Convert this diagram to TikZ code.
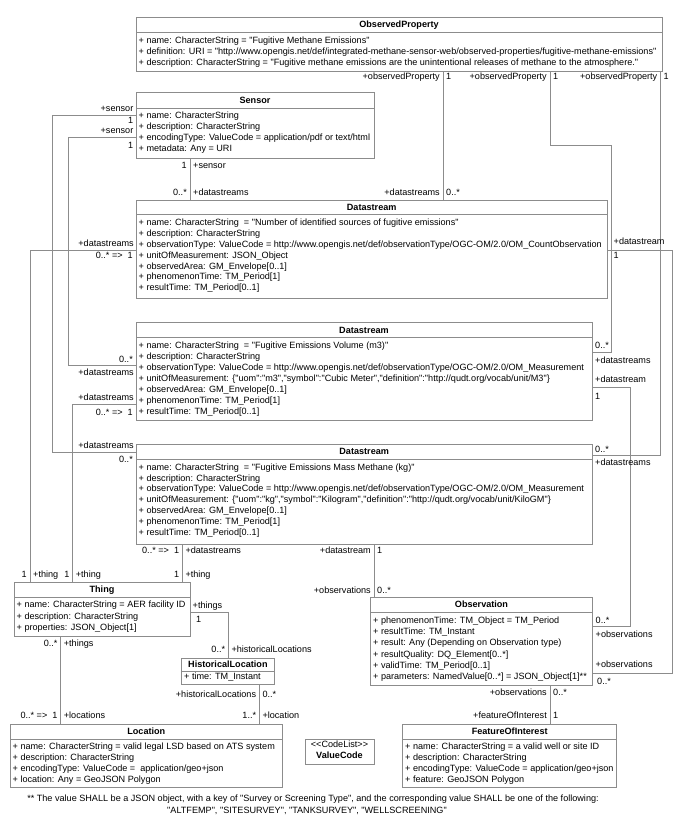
\documentclass[tikz,border=0pt]{standalone}
\usepackage{fontspec}
\newfontfamily\lsans{Liberation Sans}
\usetikzlibrary{fit}
\definecolor{lc}{RGB}{140,140,140}
\begin{document}
\begin{tikzpicture}[x=1pt,y=-1pt,
  every node/.style={font=\lsans\fontsize{9.1}{11}\selectfont, inner sep=0pt},
  cls/.style={draw=lc, line width=0.8pt, inner sep=0pt},
  sepl/.style={draw=lc, line width=0.8pt},
  conn/.style={draw=lc, line width=0.8pt},
  ttl/.style={anchor=mid, font=\lsans\bfseries\fontsize{9.1}{11}\selectfont},
  att/.style={anchor=mid west},
  le/.style={anchor=mid east},
  lw/.style={anchor=mid west}]
\useasboundingbox (0,0) rectangle (699,828);

% ---------- ObservedProperty
\node[cls, fit={(136,17) (662,71.5)}] (op) {};
\draw[sepl] (136,32.5) -- (662,32.5);
\node[ttl] (opT) at (399,25.5) {ObservedProperty};
\node[att] (opA1) at (138.5,41.5) {+ name: CharacterString = "Fugitive Methane Emissions"};
\node[att] (opA2) at (138.5,52.5) {+ definition: URI = "http://www.opengis.net/def/integrated-methane-sensor-web/observed-properties/fugitive-methane-emissions"};
\node[att] (opA3) at (138.5,63.5) {+ description: CharacterString = "Fugitive methane emissions are the unintentional releases of methane to the atmosphere."};

% ---------- Sensor
\node[cls, fit={(136,92.3) (374,158.3)}] (sensor) {};
\draw[sepl] (136,108.3) -- (374,108.3);
\node[ttl] (sensorT) at (255,101) {Sensor};
\node[att] (sensorA1) at (138.5,116.7) {+ name: CharacterString};
\node[att] (sensorA2) at (138.5,127.7) {+ description: CharacterString};
\node[att] (sensorA3) at (138.5,138.5) {+ encodingType: ValueCode = application/pdf or text/html};
\node[att] (sensorA4) at (138.5,149.5) {+ metadata: Any = URI};

% ---------- Datastream 1
\node[cls, fit={(136,200) (607.3,298.3)}] (ds1) {};
\draw[sepl] (136,214) -- (607.3,214);
\node[ttl] (ds1T) at (371.7,208) {Datastream};
\node[att] (ds1A1) at (138.5,223.3) {+ name: CharacterString \ = "Number of identified sources of fugitive emissions"};
\node[att] (ds1A2) at (138.5,234.2) {+ description: CharacterString};
\node[att] (ds1A3) at (138.5,245.1) {+ observationType: ValueCode = http://www.opengis.net/def/observationType/OGC-OM/2.0/OM\_CountObservation};
\node[att] (ds1A4) at (138.5,256.0) {+ unitOfMeasurement: JSON\_Object};
\node[att] (ds1A5) at (138.5,266.9) {+ observedArea: GM\_Envelope[0..1]};
\node[att] (ds1A6) at (138.5,277.8) {+ phenomenonTime: TM\_Period[1]};
\node[att] (ds1A7) at (138.5,288.7) {+ resultTime: TM\_Period[0..1]};

% ---------- Datastream 2
\node[cls, fit={(136,322.7) (592,420.7)}] (ds2) {};
\draw[sepl] (136,337.7) -- (592,337.7);
\node[ttl] (ds2T) at (364,331) {Datastream};
\node[att] (ds2A1) at (138.5,346.7) {+ name: CharacterString \ = "Fugitive Emissions Volume (m3)"};
\node[att] (ds2A2) at (138.5,357.6) {+ description: CharacterString};
\node[att] (ds2A3) at (138.5,368.5) {+ observationType: ValueCode = http://www.opengis.net/def/observationType/OGC-OM/2.0/OM\_Measurement};
\node[att] (ds2A4) at (138.5,379.4) {+ unitOfMeasurement: \{"uom":"m3","symbol":"Cubic Meter","definition":"http://qudt.org/vocab/unit/M3"\}};
\node[att] (ds2A5) at (138.5,390.3) {+ observedArea: GM\_Envelope[0..1]};
\node[att] (ds2A6) at (138.5,401.2) {+ phenomenonTime: TM\_Period[1]};
\node[att] (ds2A7) at (138.5,412.1) {+ resultTime: TM\_Period[0..1]};

% ---------- Datastream 3
\node[cls, fit={(136,444.5) (592.3,544)}] (ds3) {};
\draw[sepl] (136,459.3) -- (592.3,459.3);
\node[ttl] (ds3T) at (364.2,452.8) {Datastream};
\node[att] (ds3A1) at (138.5,468.0) {+ name: CharacterString \ = "Fugitive Emissions Mass Methane (kg)"};
\node[att] (ds3A2) at (138.5,478.9) {+ description: CharacterString};
\node[att] (ds3A3) at (138.5,489.8) {+ observationType: ValueCode = http://www.opengis.net/def/observationType/OGC-OM/2.0/OM\_Measurement};
\node[att] (ds3A4) at (138.5,500.7) {+ unitOfMeasurement: \{"uom":"kg","symbol":"Kilogram","definition":"http://qudt.org/vocab/unit/KiloGM"\}};
\node[att] (ds3A5) at (138.5,511.6) {+ observedArea: GM\_Envelope[0..1]};
\node[att] (ds3A6) at (138.5,522.5) {+ phenomenonTime: TM\_Period[1]};
\node[att] (ds3A7) at (138.5,533.4) {+ resultTime: TM\_Period[0..1]};

% ---------- Thing
\node[cls, fit={(14,582.7) (190,636)}] (thing) {};
\draw[sepl] (14,597) -- (190,597);
\node[ttl] (thingT) at (102,590.5) {Thing};
\node[att] (thingA1) at (16.5,605.7) {+ name: CharacterString = AER facility ID};
\node[att] (thingA2) at (16.5,616.9) {+ description: CharacterString};
\node[att] (thingA3) at (16.5,628) {+ properties: JSON\_Object[1]};

% ---------- HistoricalLocation
\node[cls, fit={(181.7,658.3) (274,684.5)}] (hl) {};
\draw[sepl] (181.7,671) -- (274,671);
\node[ttl] (hlT) at (227.9,665) {HistoricalLocation};
\node[att] (hlA1) at (184,677.7) {+ time: TM\_Instant};

% ---------- Location
\node[cls, fit={(10,724.5) (282.7,787)}] (loc) {};
\draw[sepl] (10,739) -- (282.7,739);
\node[ttl] (locT) at (146.3,732.3) {Location};
\node[att] (locA1) at (12.5,747) {+ name: CharacterString = valid legal LSD based on ATS system};
\node[att] (locA2) at (12.5,758) {+ description: CharacterString};
\node[att] (locA3) at (12.5,769) {+ encodingType: ValueCode = \ application/geo+json};
\node[att] (locA4) at (12.5,780) {+ location: Any = GeoJSON Polygon};

% ---------- CodeList
\node[cls, fit={(305,739) (374,764)}] (cl) {};
\node[anchor=mid] (clA) at (339.5,745.5) {<{}<CodeList>{}>};
\node[ttl] (clT) at (339.5,756.5) {ValueCode};

% ---------- Observation
\node[cls, fit={(370.7,597.3) (592.3,685)}] (obs) {};
\draw[sepl] (370.7,612.3) -- (592.3,612.3);
\node[ttl] (obsT) at (481.5,605.5) {Observation};
\node[att] (obsA1) at (373,621.2) {+ phenomenonTime: TM\_Object = TM\_Period};
\node[att] (obsA2) at (373,632.5) {+ resultTime: TM\_Instant};
\node[att] (obsA3) at (373,643.8) {+ result: Any (Depending on Observation type)};
\node[att] (obsA4) at (373,655.1) {+ resultQuality: DQ\_Element[0..*]};
\node[att] (obsA5) at (373,666.4) {+ validTime: TM\_Period[0..1]};
\node[att] (obsA6) at (373,677.7) {+ parameters: NamedValue[0..*] = JSON\_Object[1]**};

% ---------- FeatureOfInterest
\node[cls, fit={(402.7,724.5) (616.7,787)}] (foi) {};
\draw[sepl] (402.7,739) -- (616.7,739);
\node[ttl] (foiT) at (509.7,732.3) {FeatureOfInterest};
\node[att] (foiA1) at (405,747) {+ name: CharacterString = a valid well or site ID};
\node[att] (foiA2) at (405,758) {+ description: CharacterString};
\node[att] (foiA3) at (405,769) {+ encodingType: ValueCode = application/geo+json};
\node[att] (foiA4) at (405,780) {+ feature: GeoJSON Polygon};

% ---------- footnote
\node[anchor=mid] (fn1) at (313,799) {** The value SHALL be a JSON object, with a key of "Survey or Screening Type", and the corresponding value SHALL be one of the following:};
\node[anchor=mid] (fn2) at (307,811) {"ALTFEMP", "SITESURVEY", "TANKSURVEY", "WELLSCREENING"};

% ---------- connectors
\coordinate (c1) at (443,0);
\draw[conn] (op.south -| c1) -- (ds1.north -| c1);
\coordinate (c2a) at (550,145); \coordinate (c2b) at (611,145); \coordinate (c2c) at (611,352);
\draw[conn] (op.south -| c2a) -- (c2a) -- (c2b) -- (c2c) -- (ds2.east |- c2c);
\coordinate (c3a) at (660.5,455.7);
\draw[conn] (op.south -| c3a) -- (c3a) -- (ds3.east |- c3a);
\coordinate (c4) at (190,0);
\draw[conn] (sensor.south -| c4) -- (ds1.north -| c4);
\coordinate (c5a) at (68,137.7); \coordinate (c5b) at (68,365.7);
\draw[conn] (sensor.west |- c5a) -- (c5a) -- (c5b) -- (ds2.west |- c5b);
\coordinate (c6a) at (52,115.7); \coordinate (c6b) at (52,452.7);
\draw[conn] (sensor.west |- c6a) -- (c6a) -- (c6b) -- (ds3.west |- c6b);
\coordinate (c7a) at (30,250);
\draw[conn] (ds1.west |- c7a) -- (c7a) -- (thing.north -| c7a);
\coordinate (c8a) at (72.7,404.3);
\draw[conn] (ds2.west |- c8a) -- (c8a) -- (thing.north -| c8a);
\coordinate (c9) at (182.3,0);
\draw[conn] (ds3.south -| c9) -- (thing.north -| c9);
\coordinate (c10a) at (672.3,250); \coordinate (c10b) at (672.3,673.3);
\draw[conn] (ds1.east |- c10a) -- (c10a) -- (c10b) -- (obs.east |- c10b);
\coordinate (c11) at (374,0);
\draw[conn] (ds3.south -| c11) -- (obs.north -| c11);
\coordinate (c12a) at (630,387.7); \coordinate (c12b) at (630,626.7);
\draw[conn] (ds2.east |- c12a) -- (c12a) -- (c12b) -- (obs.east |- c12b);
\coordinate (c13a) at (228.3,612.3);
\draw[conn] (thing.east |- c13a) -- (c13a) -- (hl.north -| c13a);
\coordinate (c14) at (60.7,0);
\draw[conn] (thing.south -| c14) -- (loc.north -| c14);
\coordinate (c15) at (259.3,0);
\draw[conn] (hl.south -| c15) -- (loc.north -| c15);
\coordinate (c16) at (550,0);
\draw[conn] (obs.south -| c16) -- (foi.north -| c16);

% ---------- role / multiplicity labels
% 1
\node[le] (l1a) at (440,77.5) {+observedProperty};
\node[lw] (l1b) at (446,77.5) {1};
\node[le] (l1c) at (440,193) {+datastreams};
\node[lw] (l1d) at (446,193) {0..*};
% 2
\node[le] (l2a) at (547,77.5) {+observedProperty};
\node[lw] (l2b) at (553,77.5) {1};
\node[lw] (l2c) at (595,346.5) {0..*};
\node[lw] (l2d) at (595,361) {+datastreams};
% 3
\node[le] (l3a) at (657.5,77.5) {+observedProperty};
\node[lw] (l3b) at (663.5,77.5) {1};
\node[lw] (l3c) at (595,450) {0..*};
\node[lw] (l3d) at (595,463.3) {+datastreams};
% 4
\node[le] (l4a) at (187,166) {1};
\node[lw] (l4b) at (193,166) {+sensor};
\node[le] (l4c) at (187,193.3) {0..*};
\node[lw] (l4d) at (193,193.3) {+datastreams};
% 5
\node[le] (l5a) at (133.5,131.5) {+sensor};
\node[le] (l5b) at (133.5,146.5) {1};
\node[le] (l5c) at (133,360.5) {0..*};
\node[le] (l5d) at (134,373.3) {+datastreams};
% 6
\node[le] (l6a) at (133.5,109.3) {+sensor};
\node[le] (l6b) at (133.5,121) {1};
\node[le] (l6c) at (134,446.7) {+datastreams};
\node[le] (l6d) at (133,460) {0..*};
% 7
\node[le] (l7a) at (134,244) {+datastreams};
\node[le] (l7b) at (133,256) {0..* => \ 1};
\node[le] (l7c) at (27,575.7) {1};
\node[lw] (l7d) at (33,575.7) {+thing};
% 8
\node[le] (l8a) at (134,398.3) {+datastreams};
\node[le] (l8b) at (133,413.3) {0..* => \ 1};
\node[le] (l8c) at (69.7,575.7) {1};
\node[lw] (l8d) at (75.7,575.7) {+thing};
% 9
\node[le] (l9a) at (179.3,551.7) {0..* => \ 1};
\node[lw] (l9b) at (185.3,551.7) {+datastreams};
\node[le] (l9c) at (179.3,575.7) {1};
\node[lw] (l9d) at (185.3,575.7) {+thing};
% 10
\node[lw] (l10a) at (613.5,242) {+datastream};
\node[lw] (l10b) at (613.5,256.5) {1};
\node[lw] (l10c) at (595.5,665) {+observations};
\node[lw] (l10d) at (597,682.3) {0..*};
% 11
\node[le] (l11a) at (371,551.7) {+datastream};
\node[lw] (l11b) at (377,551.7) {1};
\node[le] (l11c) at (371,591.7) {+observations};
\node[lw] (l11d) at (377,591.7) {0..*};
% 12
\node[lw] (l12a) at (595,380) {+datastream};
\node[lw] (l12b) at (595,397) {1};
\node[lw] (l12c) at (595.5,621) {0..*};
\node[lw] (l12d) at (595.5,635.7) {+observations};
% 13
\node[lw] (l13a) at (192.5,606.5) {+things};
\node[lw] (l13b) at (196,620) {1};
\node[le] (l13c) at (225.3,650.7) {0..*};
\node[lw] (l13d) at (231.3,650.7) {+historicalLocations};
% 14
\node[le] (l14a) at (57.7,644.3) {0..*};
\node[lw] (l14b) at (63.7,644.3) {+things};
\node[le] (l14c) at (57.7,716.7) {0..* => \ 1};
\node[lw] (l14d) at (63.7,716.7) {+locations};
% 15
\node[le] (l15a) at (256.3,695) {+historicalLocations};
\node[lw] (l15b) at (262.3,695) {0..*};
\node[le] (l15c) at (256.3,716.7) {1..*};
\node[lw] (l15d) at (262.3,716.7) {+location};
% 16
\node[le] (l16a) at (547,693.3) {+observations};
\node[lw] (l16b) at (553,693.3) {0..*};
\node[le] (l16c) at (547,716.7) {+featureOfInterest};
\node[lw] (l16d) at (553,716.7) {1};
\end{tikzpicture}
\end{document}
